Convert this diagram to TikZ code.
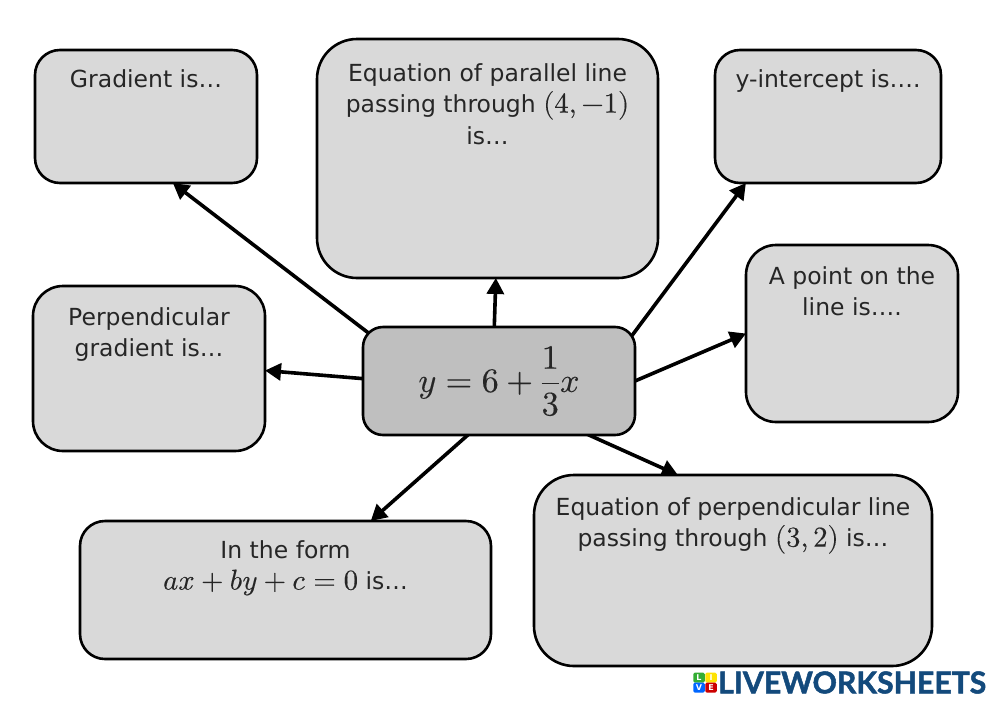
\documentclass[tikz,border=0pt]{standalone}
\usepackage{unicode-math}
\setmainfont{DejaVu Sans}
\setmathfont[Scale=1.22,FakeBold=0.3]{Latin Modern Math}
\newfontfamily\logofont[FakeBold=1.6]{Lato}
\usetikzlibrary{arrows.meta,backgrounds}
\definecolor{boxfill}{HTML}{D9D9D9}
\definecolor{midfill}{HTML}{BFBFBF}
\definecolor{txtc}{HTML}{262626}
\definecolor{logoblue}{HTML}{134A7C}
\tikzset{
  card/.style={draw=black,line width=2.6pt,fill=boxfill,outer sep=0pt,inner sep=0pt},
  mid/.style={card,fill=midfill,rounded corners=20pt,minimum width=272pt,minimum height=108pt},
  cardtext/.style={text=txtc,align=center,font=\fontsize{23.5}{31.5}\selectfont,inner sep=0pt},
  link/.style={line width=3.6pt,-{Triangle[length=16pt,width=17pt]},shorten <=-7pt},
  tile/.style={minimum width=11.5pt,minimum height=10pt,inner sep=0pt,text=white,font=\fontsize{8}{8}\selectfont\bfseries,rounded corners=1.5pt}
}
\begin{document}
\begin{tikzpicture}[x=1pt,y=-1pt]
\useasboundingbox (0,0) rectangle (1000,707);
\node[card,rounded corners=25pt,minimum width=222pt,minimum height=133pt] (gr) at (146,116.5) {};
\node[card,rounded corners=40pt,minimum width=341pt,minimum height=239pt] (par) at (487.5,158.5) {};
\node[card,rounded corners=25pt,minimum width=226pt,minimum height=133pt] (yi) at (828,116.5) {};
\node[card,rounded corners=30pt,minimum width=212pt,minimum height=177pt] (pt) at (852,333.5) {};
\node[card,rounded corners=30pt,minimum width=232pt,minimum height=165pt] (pg) at (149,368.5) {};
\node[card,rounded corners=25pt,minimum width=411pt,minimum height=138pt] (fm) at (285.5,590) {};
\node[card,rounded corners=40pt,minimum width=398pt,minimum height=191pt] (ep) at (733,570.5) {};
\node[mid] (c) at (499,381) {\fontsize{28}{28}\selectfont\color{txtc}$\displaystyle y=6+\frac{1}{3}x$};
\begin{scope}[on background layer]
\draw[link] (c.159.3) -- (gr.-68.9);
\draw[link] (c.95.3) -- (par.-86.9);
\draw[link] (c.20.2) -- (yi.219.1);
\draw[link] (c.0.4) -- (pt.180.3);
\draw[link] (c.179.6) -- (pg.-1.2);
\draw[link] (c.240.1) -- (fm.39.6);
\draw[link] (c.-31.5) -- (ep.120.1);
\end{scope}
\node[cardtext,anchor=north] (tgr) at (146,69) {Gradient is…};
\node[cardtext,anchor=north] (tpar) at (487.5,63) {Equation of parallel line\\passing through $(4,-1)$\\is…};
\node[cardtext,anchor=north] (tyi) at (828,69) {y-intercept is….};
\node[cardtext,anchor=north] (tpt) at (852,266) {A point on the\\line is….};
\node[cardtext,anchor=north] (tpg) at (149,307) {Perpendicular\\gradient is…};
\node[cardtext,anchor=north] (tfm) at (285.5,540) {In the form\\$ax+by+c=0$ is…};
\node[cardtext,anchor=north] (tep) at (733,497) {Equation of perpendicular line\\passing through $(3,2)$ is…};
\node[tile,fill=green!60!black!80] (l1) at (699,677.5) {L};
\node[tile,fill=yellow!85!orange] (l2) at (711,677.5) {I};
\node[tile,fill=blue!60!cyan] (l3) at (699,687.5) {V};
\node[tile,fill=red!80!black] (l4) at (711,687.5) {E};
\node[anchor=west,inner sep=0pt,text=logoblue,font=\logofont\fontsize{30.2}{30}\selectfont\bfseries] (logo) at (718,682.5) {LIVEWORKSHEETS};
\end{tikzpicture}
\end{document}
